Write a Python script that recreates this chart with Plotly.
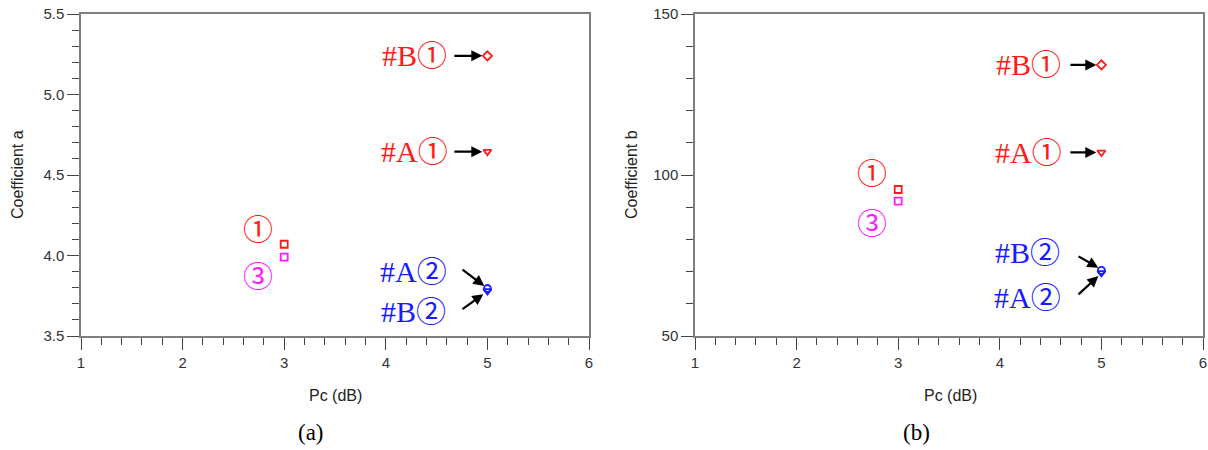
import plotly.graph_objects as go

# ---- data ----
pc_sq = [3, 3]
a_sq = [4.07, 3.99]          # red (1), magenta (3)
b_sq = [95.5, 91.9]

pc_pt = 5
a_B1, a_A1, a_A2, a_B2 = 5.24, 4.645, 3.795, 3.78
b_B1, b_A1, b_B2, b_A2 = 134.2, 107.0, 70.4, 69.6

x_ticks = [1, 2, 3, 4, 5, 6]
ya_ticks = [3.5, 4.0, 4.5, 5.0, 5.5]
yb_ticks = [50, 100, 150]

RED = "#ff1a1a"
MAG = "#ff1aff"
BLUE = "#1a1aff"
SERIF = "Liberation Serif, Noto Sans CJK SC, serif"
SANS = "Liberation Sans, Arial, sans-serif"

fig = go.Figure()

def mk(x, y, sym, col, xa, ya):
    fig.add_trace(go.Scatter(x=[x], y=[y],
                             mode="markers", xaxis=xa, yaxis=ya, showlegend=False,
                             marker=dict(symbol=sym, size=7, color=col,
                                         line=dict(color=col, width=1.8))))

# left panel
mk(pc_sq[0], a_sq[0], "square-open", RED, "x", "y")
mk(pc_sq[1], a_sq[1], "square-open", MAG, "x", "y")
mk(pc_pt, a_B1, "diamond-open", RED, "x", "y")
mk(pc_pt, a_A1, "triangle-down-open", RED, "x", "y")
mk(pc_pt, a_A2, "circle-open", BLUE, "x", "y")
mk(pc_pt, a_B2, "triangle-down-open", BLUE, "x", "y")
# right panel
mk(pc_sq[0], b_sq[0], "square-open", RED, "x2", "y2")
mk(pc_sq[1], b_sq[1], "square-open", MAG, "x2", "y2")
mk(pc_pt, b_B1, "diamond-open", RED, "x2", "y2")
mk(pc_pt, b_A1, "triangle-down-open", RED, "x2", "y2")
mk(pc_pt, b_B2, "circle-open", BLUE, "x2", "y2")
mk(pc_pt, b_A2, "triangle-down-open", BLUE, "x2", "y2")

anns = []
def label(text, x, y, col, xr, yr, size=30):
    anns.append(dict(text=text, x=x, y=y, xref=xr, yref=yr, showarrow=False,
                     font=dict(family=SERIF, size=size, color=col),
                     xanchor="center", yanchor="middle"))

def arrow(x0, y0, x1, y1, xr, yr):
    anns.append(dict(text="", x=x1, y=y1, ax=x0, ay=y0, xref=xr, yref=yr,
                     axref=xr, ayref=yr, showarrow=True, arrowhead=2,
                     arrowsize=1, arrowwidth=2.2, arrowcolor="black"))

# left labels
label("#B\u2460", 4.28, a_B1, RED, "x", "y")
label("#A\u2460", 4.28, a_A1, RED, "x", "y")
label("#A\u2461", 4.27, 3.90, BLUE, "x", "y")
label("#B\u2461", 4.27, 3.65, BLUE, "x", "y")
label("\u2460", 2.74, 4.16, RED, "x", "y")
label("\u2462", 2.74, 3.87, MAG, "x", "y")
arrow(4.66, a_B1, 4.95, a_B1, "x", "y")
arrow(4.66, a_A1, 4.95, a_A1, "x", "y")
arrow(4.74, 3.92, 4.97, 3.81, "x", "y")
arrow(4.74, 3.66, 4.96, 3.76, "x", "y")

# right labels
label("#B\u2460", 4.28, b_B1, RED, "x2", "y2")
label("#A\u2460", 4.28, b_A1, RED, "x2", "y2")
label("#B\u2461", 4.27, 75.8, BLUE, "x2", "y2")
label("#A\u2461", 4.27, 62.1, BLUE, "x2", "y2")
label("\u2460", 2.74, 100.6, RED, "x2", "y2")
label("\u2462", 2.74, 84.8, MAG, "x2", "y2")
arrow(4.68, b_B1, 4.95, b_B1, "x2", "y2")
arrow(4.68, b_A1, 4.95, b_A1, "x2", "y2")
arrow(4.76, 75.0, 4.97, 71.2, "x2", "y2")
arrow(4.76, 62.5, 4.97, 68.6, "x2", "y2")

def ptext(text, px, py, fam, size, col="black", angle=0):
    anns.append(dict(text=text, x=px/1208, y=1-py/450, xref="paper", yref="paper",
                     showarrow=False, textangle=angle,
                     font=dict(family=fam, size=size, color=col),
                     xanchor="center", yanchor="middle"))

# captions
ptext("(a)", 311, 432, SERIF, 23)
ptext("(b)", 916, 432, SERIF, 23)
# axis titles
ptext("Coefficient a", 18, 175, SANS, 16, "#222", -90)
ptext("Coefficient b", 632, 175, SANS, 16, "#222", -90)
ptext("Pc (dB)", 335, 395, SANS, 16, "#222")
ptext("Pc (dB)", 950, 395, SANS, 16, "#222")

AX = dict(showgrid=False, zeroline=False, showline=True, linecolor="#7f7f7f",
          linewidth=1.5, mirror=True, ticks="outside", ticklen=12, tickwidth=1.3,
          tickcolor="#444", automargin=False, ticklabeloverflow="allow",
          tickfont=dict(family=SANS, size=15, color="#333"))
MINX = dict(ticks="outside", ticklen=7, tickwidth=1.2, tickcolor="#444", dtick=0.2, tick0=1)

yt = 1 - 14/450
yb = 1 - 336/450
fig.update_layout(
    width=1208, height=450, margin=dict(l=0, r=0, t=0, b=0),
    plot_bgcolor="white", paper_bgcolor="white",
    xaxis=dict(**AX, domain=[81/1208, 589/1208], range=[1, 6], tickvals=x_ticks,
               minor=MINX, anchor="y"),
    yaxis=dict(**AX, domain=[yb, yt], range=[3.5, 5.5], tickvals=ya_ticks,
               tickformat=".1f", anchor="x",
               minor=dict(ticks="outside", ticklen=7, tickwidth=1.2, tickcolor="#444", dtick=0.1, tick0=3.5)),
    xaxis2=dict(**AX, domain=[695/1208, 1203/1208], range=[1, 6], tickvals=x_ticks,
                minor=MINX, anchor="y2"),
    yaxis2=dict(**AX, domain=[yb, yt], range=[50, 150], tickvals=yb_ticks, anchor="x2",
                minor=dict(ticks="outside", ticklen=7, tickwidth=1.2, tickcolor="#444", dtick=10, tick0=50)),
    annotations=anns,
)

fig.write_html("out.html", config={"displayModeBar": False},
               post_script="document.body.style.margin='0';document.body.style.overflow='hidden';")
